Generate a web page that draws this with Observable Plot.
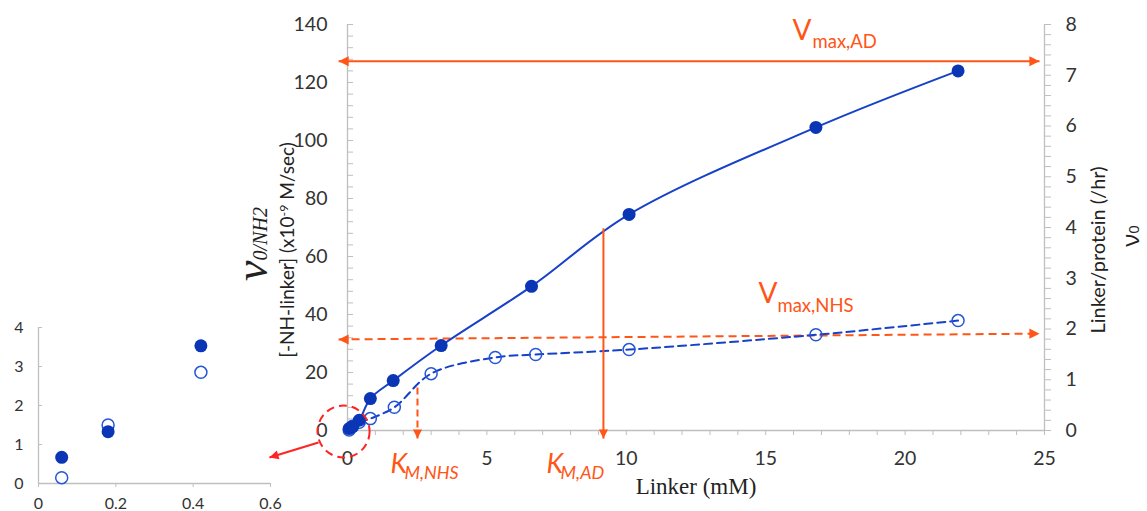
<!DOCTYPE html>
<html><head><meta charset="utf-8">
<script src="https://cdn.jsdelivr.net/npm/d3@7"></script>
<script src="https://cdn.jsdelivr.net/npm/@observablehq/plot@0.6"></script>
<style>
html,body{margin:0;padding:0;background:#fff;}
#wrap{position:relative;width:1147px;height:511px;overflow:hidden;}
#wrap svg{position:absolute;left:0;}
.rot{position:absolute;transform:translate(-50%,-50%) rotate(-90deg);white-space:nowrap;line-height:1;color:#222;}
.rot sup{font-size:0.65em;line-height:0;vertical-align:0.45em;}
</style></head><body><div id="wrap"></div>
<script>
// ---- data ----
const adLinker  = [0.06, 0.18, 0.42, 0.82, 1.64, 3.36, 6.6, 10.1, 16.8, 21.9];
const adRate    = [0.67, 1.33, 3.53, 11.0, 17.2, 29.3, 49.7, 74.5, 104.5, 124.0];
const nhsLinker = [0.06, 0.18, 0.42, 0.82, 1.68, 3.0, 5.3, 6.75, 10.1, 16.8, 21.9];
const nhsRate   = [0.15, 1.5, 2.85, 4.1, 8.0, 19.6, 25.2, 26.2, 27.9, 33.0, 37.9];

const xTicks = [0, 5, 10, 15, 20, 25];
const xMinor = d3.range(0, 26, 1);
const yLeftTicks = [0, 20, 40, 60, 80, 100, 120, 140];
const yLeftMinor = d3.range(0, 141, 4);
const yRightTicks = [0, 1, 2, 3, 4, 5, 6, 7, 8];
const rightToLeft = 17.5; // 8 on right axis = 140 on left axis
const yRightMinor = d3.range(0, 41).map(i => i * 0.2);

const insetXTicks = [0, 0.2, 0.4, 0.6];
const insetYTicks = [0, 1, 2, 3, 4];
const insetXMax = 0.6;

// annotations (data units of the main chart)
const vmaxAD  = [{x1: -0.32, y1: 127.3, x2: 24.82, y2: 127.3}];
const vmaxNHS = [{x1: -0.32, y1: 31.4, x2: 24.82, y2: 33.4}];
const kmNHS   = [{x: 2.51, y1: 14.8, y2: -2.8}];
const kmAD    = [{x: 9.18, y1: 69.7, y2: -2.8}];
const zoomCircle = [{x: -0.14, y: -0.34}];
const zoomArrow  = [{x1: -1.04, y1: -4.14, x2: -2.80, y2: -9.31}];
const labelVAD   = [{x: 15.96, y: 134.5, main: "V", sub: "max,AD"}];
const labelVNHS  = [{x: 14.74, y: 43.8, main: "V", sub: "max,NHS"}];
const labelKNHS  = [{x: 1.54, y: -14.8, main: "K", sub: "M,NHS"}];
const labelKAD   = [{x: 7.14, y: -14.8, main: "K", sub: "M,AD"}];

const ad  = adLinker.map((x, i) => ({x, y: adRate[i]}));
const nhs = nhsLinker.map((x, i) => ({x, y: nhsRate[i]}));

// ---- styles ----
const gray = "#bfbfbf", txt = "#333", orange = "#FF5516", red = "#FF2424";
const blueLine = "#1641C8", blueDot = "#0A35B5", blueOpen = "#2456DA";
const font = "Lato, 'Open Sans', sans-serif";
const arrowHead = { draw(ctx, size) { const r = Math.sqrt(size / Math.PI); const L = 2.4 * r, w = 1.2 * r;
  ctx.moveTo(0, 0); ctx.lineTo(-w, L); ctx.lineTo(w, L); ctx.closePath(); } };
const frameW = 1044 - 347;

const main = Plot.plot({
  width: 1147, height: 511,
  marginLeft: 347, marginRight: 103, marginTop: 24, marginBottom: 81,
  x: {domain: [0, 25]}, y: {domain: [0, 140]},
  style: {fontFamily: font, fontSize: "19px", color: txt, background: "transparent", overflow: "visible"},
  marks: [
    Plot.ruleY([0], {stroke: gray, strokeWidth: 1.3}),
    Plot.ruleX([0], {stroke: gray, strokeWidth: 1.3}),
    Plot.ruleX([25], {stroke: gray, strokeWidth: 1.3}),
    Plot.axisX(xMinor, {tickSize: 5, stroke: gray, fill: "none", label: null}),
    Plot.axisX(xTicks, {tickSize: 0, tickPadding: 21, fill: txt, fontSize: 19.5, label: null}),
    Plot.tickY(yLeftMinor, {y: d => d, insetRight: frameW - 6, stroke: gray}),
    Plot.axisY(yLeftTicks, {anchor: "left", tickSize: 0, tickPadding: 20, fill: txt, fontSize: 19.5, label: null}),
    Plot.axisY(yRightMinor.map(v => v * rightToLeft), {anchor: "right", tickSize: 6, stroke: gray, fill: "none", label: null}),
    Plot.axisY(yRightTicks.map(v => v * rightToLeft), {anchor: "right", tickSize: 0, tickPadding: 21, fill: txt, fontSize: 19.5, label: null,
      tickFormat: d => String(Math.round(d / rightToLeft))}),
    // Vmax lines
    Plot.link(vmaxAD, {x1: "x1", y1: "y1", x2: "x2", y2: "y2", stroke: orange, strokeWidth: 2}),
    Plot.link(vmaxNHS, {x1: "x1", y1: "y1", x2: "x2", y2: "y2", stroke: orange, strokeWidth: 2, strokeDasharray: "8,5"}),
    // data
    Plot.line(nhs, {x: "x", y: "y", curve: "catmull-rom", stroke: blueLine, strokeWidth: 2, strokeDasharray: "8,5"}),
    Plot.line(ad, {x: "x", y: "y", curve: "catmull-rom", stroke: blueLine, strokeWidth: 2}),
    Plot.dot(nhs, {x: "x", y: "y", r: 6, stroke: blueOpen, strokeWidth: 1.5, fill: "none"}),
    Plot.dot(ad, {x: "x", y: "y", r: 6.5, fill: blueDot}),
    // Km lines
    Plot.link(kmNHS, {x1: "x", x2: "x", y1: "y1", y2: "y2", stroke: orange, strokeWidth: 2, strokeDasharray: "7,4"}),
    Plot.link(kmAD, {x1: "x", x2: "x", y1: "y1", y2: "y2", stroke: orange, strokeWidth: 2}),
    // arrow heads
    Plot.dot(vmaxAD, {x: "x1", y: "y1", symbol: arrowHead, r: 4.2, rotate: -90, fill: orange}),
    Plot.dot(vmaxAD, {x: "x2", y: "y2", symbol: arrowHead, r: 4.2, rotate: 90, fill: orange}),
    Plot.dot(vmaxNHS, {x: "x1", y: "y1", symbol: arrowHead, r: 4.2, rotate: -90, fill: orange}),
    Plot.dot(vmaxNHS, {x: "x2", y: "y2", symbol: arrowHead, r: 4.2, rotate: 90, fill: orange}),
    Plot.dot(kmNHS, {x: "x", y: "y2", symbol: arrowHead, r: 3.8, rotate: 180, fill: orange}),
    Plot.dot(kmAD, {x: "x", y: "y2", symbol: arrowHead, r: 3.8, rotate: 180, fill: orange}),
    // zoom indicator
    Plot.dot(zoomCircle, {x: "x", y: "y", r: 26, stroke: red, strokeWidth: 2, strokeDasharray: "8,5", fill: "none"}),
    Plot.link(zoomArrow, {x1: "x1", y1: "y1", x2: "x2", y2: "y2", stroke: red, strokeWidth: 2}),
    Plot.dot(zoomArrow, {x: "x2", y: "y2", symbol: arrowHead, r: 3.8, rotate: 253, fill: red}),
    // annotation labels
    Plot.text(labelVAD, {x: "x", y: "y", text: "main", textAnchor: "start", lineAnchor: "bottom", fontSize: 28, fill: orange}),
    Plot.text(labelVAD, {x: "x", y: "y", text: "sub", textAnchor: "start", lineAnchor: "bottom", fontSize: 18.5, dx: 20, dy: 8, fill: orange}),
    Plot.text(labelVNHS, {x: "x", y: "y", text: "main", textAnchor: "start", lineAnchor: "bottom", fontSize: 28, fill: orange}),
    Plot.text(labelVNHS, {x: "x", y: "y", text: "sub", textAnchor: "start", lineAnchor: "bottom", fontSize: 18.5, dx: 19, dy: 9, fill: orange}),
    Plot.text(labelKNHS, {x: "x", y: "y", text: "main", textAnchor: "start", lineAnchor: "bottom", fontSize: 27, fontStyle: "italic", fill: orange}),
    Plot.text(labelKNHS, {x: "x", y: "y", text: "sub", textAnchor: "start", lineAnchor: "bottom", fontSize: 18, fontStyle: "italic", dx: 14, dy: 6, fill: orange}),
    Plot.text(labelKAD, {x: "x", y: "y", text: "main", textAnchor: "start", lineAnchor: "bottom", fontSize: 27, fontStyle: "italic", fill: orange}),
    Plot.text(labelKAD, {x: "x", y: "y", text: "sub", textAnchor: "start", lineAnchor: "bottom", fontSize: 18, fontStyle: "italic", dx: 14, dy: 6, fill: orange}),
    Plot.text(["Linker (mM)"], {text: d => d, frameAnchor: "bottom", dy: 63, lineAnchor: "bottom", fontFamily: "'Liberation Serif', serif", fontSize: 23, fill: "#222"})
  ]
});

const insetAD = ad.filter(d => d.x <= insetXMax);
const insetNHS = nhs.filter(d => d.x <= insetXMax);
const inset = Plot.plot({
  width: 300, height: 200,
  marginLeft: 38, marginRight: 30, marginTop: 16, marginBottom: 28,
  x: {domain: [0, 0.6]}, y: {domain: [0, 4]},
  style: {fontFamily: font, fontSize: "16px", color: txt, background: "transparent", overflow: "visible"},
  marks: [
    Plot.ruleY([0], {stroke: gray, strokeWidth: 1.3}),
    Plot.ruleX([0], {stroke: gray, strokeWidth: 1.3}),
    Plot.axisX(insetXTicks, {tickSize: 4, tickPadding: 10, stroke: gray, fill: txt, fontSize: 16, label: null, tickFormat: d => String(d)}),
    Plot.tickY(insetYTicks, {y: d => d, insetRight: 232 - 4, stroke: gray}),
    Plot.axisY(insetYTicks, {anchor: "left", tickSize: 0, tickPadding: 15, fill: txt, fontSize: 16, label: null}),
    Plot.dot(insetNHS, {x: "x", y: "y", r: 6, stroke: blueOpen, strokeWidth: 1.5, fill: "white"}),
    Plot.dot(insetAD, {x: "x", y: "y", r: 6.5, fill: blueDot})
  ]
});

const wrap = document.getElementById("wrap");
main.style.top = "0px";
inset.style.top = "311px";
wrap.appendChild(main);
wrap.appendChild(inset);

function addRot(html, cx, cy, style) {
  const d = document.createElement("div");
  d.className = "rot";
  d.style.left = cx + "px"; d.style.top = cy + "px";
  if (style) d.setAttribute("style", d.getAttribute("style") + ";" + style);
  d.innerHTML = html;
  wrap.appendChild(d);
}
addRot(`<span style="font:italic 46px 'Liberation Serif',serif">v</span><span style="font:italic 20px 'Liberation Serif',serif">0/NH2</span>`, 251, 244);
addRot(`[-NH-linker] (x10<sup>-9</sup> M/sec)`, 286, 250, "font:19px Lato,sans-serif");
addRot(`Linker/protein (/hr)`, 1097, 250, "font:20px Lato,sans-serif");
addRot(`<span style="font:24px 'Open Sans',sans-serif">ν</span><span style="font:15px 'Open Sans',sans-serif">0</span>`, 1129, 236, "line-height:0.8");
</script>
</body></html>
